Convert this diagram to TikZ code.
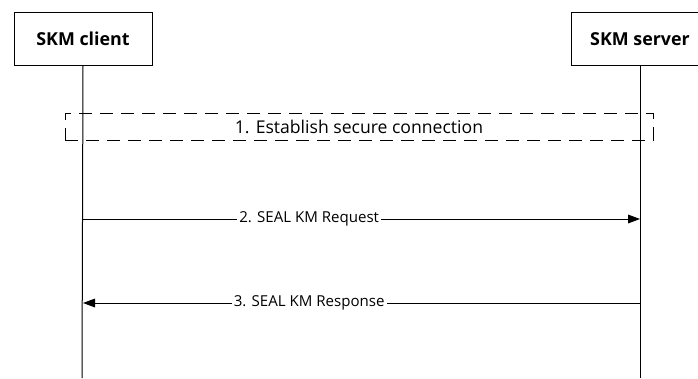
\documentclass[tikz,border=0pt]{standalone}
\usepackage{fontspec}
\setmainfont{Open Sans}
\usetikzlibrary{arrows.meta,positioning}

\tikzset{
  entity/.style={rectangle, draw=black, line width=0.75pt, minimum width=103.5pt, minimum height=39pt, font=\fontsize{13.4}{16}\selectfont\bfseries},
  lifeline/.style={line width=0.75pt},
  phase/.style={rectangle, draw=black, line width=0.75pt, dash pattern=on 9.75pt off 6pt, minimum width=441pt, minimum height=20.25pt, inner sep=0pt, font=\fontsize{13.2}{15}\selectfont},
  msg/.style={line width=0.75pt, -{Triangle[length=9pt,width=6.5pt]}},
  msglabel/.style={fill=white, inner sep=1.5pt, font=\fontsize{11.3}{14}\selectfont}
}

\begin{document}
\begin{tikzpicture}[x=0.75pt,y=-0.75pt]
            \clip (0,0) rectangle (698,378);
            % entities
            \node [entity] (client) at (83,39) {SKM client};
            \node [entity] (server) at (640,39) {SKM server};
            \coordinate (clientbot) at (82,378);
            \coordinate (serverbot) at (640,378);
            \draw[lifeline] (client.south) -- (clientbot);
            \draw[lifeline] (server.south) -- (serverbot);
            % step 1
            \node [phase] (connect) at (359,126.5) {1. Establish secure connection};
            % step 2
            \coordinate (req) at (0,219);
            \draw[msg] (client.south |- req) -- (server.south |- req) node [msglabel, pos=0.406] (reqlabel) {2. SEAL KM Request};
            % step 3
            \coordinate (resp) at (0,303);
            \draw[msg] (server.south |- resp) -- (client.south |- resp) node [msglabel, pos=0.594] (resplabel) {3. SEAL KM Response};
        \end{tikzpicture}
\end{document}
